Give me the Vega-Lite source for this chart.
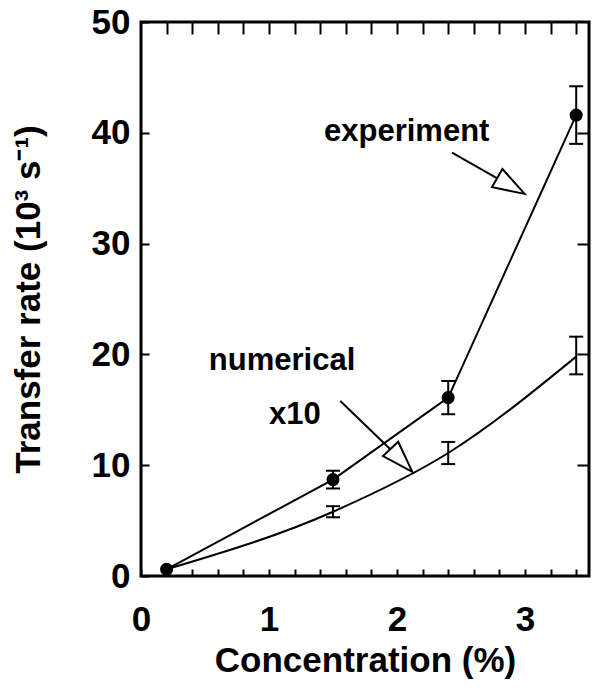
{
  "$schema": "https://vega.github.io/schema/vega-lite/v6.json",
  "width": 448,
  "height": 554,
  "autosize": "none",
  "padding": {"left": 141, "top": 22, "right": 17, "bottom": 122},
  "background": "white",
  "config": {
    "view": {"stroke": "black", "strokeWidth": 3},
    "axis": {
      "grid": false,
      "domain": false,
      "tickColor": "black",
      "tickWidth": 2,
      "labelColor": "black",
      "titleColor": "black",
      "labelFont": "Liberation Sans",
      "labelFontWeight": "bold",
      "labelFontSize": 35,
      "titleFont": "Liberation Sans",
      "titleFontWeight": "bold",
      "titleFontSize": 35,
      "labelOverlap": false,
      "labelFlush": false,
      "labelBound": false
    }
  },
  "datasets": {
    "exp": [
      {"c": 0.2, "v": 0.6},
      {"c": 1.5, "v": 8.7},
      {"c": 2.4, "v": 16.1},
      {"c": 3.4, "v": 41.6}
    ],
    "num": [
      {"c": 0.2, "v": 0.6},
      {"c": 1.5, "v": 5.8},
      {"c": 2.4, "v": 11.1},
      {"c": 3.4, "v": 19.8}
    ],
    "bars": [
      {"series": "experiment", "c": 1.5, "lo": 7.9, "hi": 9.5},
      {"series": "experiment", "c": 2.4, "lo": 14.6, "hi": 17.6},
      {"series": "experiment", "c": 3.4, "lo": 39.0, "hi": 44.2},
      {"series": "numerical", "c": 1.5, "lo": 5.3, "hi": 6.3},
      {"series": "numerical", "c": 2.4, "lo": 10.1, "hi": 12.1},
      {"series": "numerical", "c": 3.4, "lo": 18.2, "hi": 21.6}
    ],
    "labels": [
      {"c": 1.43, "v": 39.3, "t": "experiment"},
      {"c": 0.53, "v": 18.6, "t": "numerical"},
      {"c": 1.0, "v": 13.7, "t": "x10"}
    ],
    "arrows": [
      {"name": "experiment", "c": 2.43, "v": 38.2, "c2": 2.78, "v2": 35.9},
      {"name": "numerical", "c": 1.557, "v": 15.8, "c2": 1.95, "v2": 11.42}
    ],
    "heads": [
      {"name": "experiment", "c": 2.89, "v": 35.2},
      {"name": "numerical", "c": 2.035, "v": 10.43}
    ]
  },
  "resolve": {"axis": {"x": "independent", "y": "independent"}},
  "layer": [
    {
      "data": {"name": "num"},
      "mark": {"type": "line", "color": "black", "strokeWidth": 2, "interpolate": "monotone"},
      "encoding": {
        "x": {
          "field": "c", "type": "quantitative",
          "scale": {"domain": [0, 3.5], "nice": false, "zero": false},
          "axis": {
            "orient": "bottom",
            "values": [0, 0.2, 0.4, 0.6, 0.8, 1, 1.2, 1.4, 1.6, 1.8, 2, 2.2, 2.4, 2.6, 2.8, 3, 3.2, 3.4],
            "tickSize": -7,
            "labelPadding": 33,
            "labelExpr": "datum.value == 0 || datum.value == 1 || datum.value == 2 || datum.value == 3 ? format(datum.value, 'd') : ''",
            "title": "Concentration (%)",
            "titlePadding": 6
          }
        },
        "y": {
          "field": "v", "type": "quantitative",
          "scale": {"domain": [0, 50], "nice": false, "zero": false},
          "axis": {
            "orient": "left",
            "values": [0, 10, 20, 30, 40, 50],
            "tickSize": -8,
            "labelPadding": 19,
            "title": "Transfer rate (10³ s⁻¹)",
            "titlePadding": 45
          }
        }
      }
    },
    {
      "data": {"name": "exp"},
      "mark": {"type": "line", "color": "black", "strokeWidth": 2},
      "encoding": {
        "x": {
          "field": "c", "type": "quantitative",
          "axis": {
            "orient": "top",
            "values": [0.2, 0.4, 0.6, 0.8, 1, 1.2, 1.4, 1.6, 1.8, 2, 2.2, 2.4, 2.6, 2.8, 3, 3.2, 3.4],
            "tickSize": -12,
            "labels": false,
            "title": null
          }
        },
        "y": {
          "field": "v", "type": "quantitative",
          "axis": {
            "orient": "right",
            "values": [10, 20, 30, 40],
            "tickSize": -12,
            "labels": false,
            "title": null
          }
        }
      }
    },
    {
      "data": {"name": "arrows"},
      "mark": {"type": "rule", "color": "black", "strokeWidth": 2},
      "encoding": {
        "x": {"field": "c", "type": "quantitative", "axis": null},
        "y": {"field": "v", "type": "quantitative", "axis": null},
        "x2": {"field": "c2"},
        "y2": {"field": "v2"}
      }
    },
    {
      "data": {"name": "heads"},
      "transform": [{"filter": "datum.name == 'experiment'"}],
      "mark": {"type": "point", "shape": "M0,-1L0.66,1L-0.66,1Z", "size": 1000, "angle": 120, "filled": true, "fill": "white", "stroke": "black", "strokeWidth": 2, "opacity": 1},
      "encoding": {
        "x": {"field": "c", "type": "quantitative", "axis": null},
        "y": {"field": "v", "type": "quantitative", "axis": null}
      }
    },
    {
      "data": {"name": "heads"},
      "transform": [{"filter": "datum.name == 'numerical'"}],
      "mark": {"type": "point", "shape": "M0,-1L0.66,1L-0.66,1Z", "size": 1000, "angle": 136.6, "filled": true, "fill": "white", "stroke": "black", "strokeWidth": 2, "opacity": 1},
      "encoding": {
        "x": {"field": "c", "type": "quantitative", "axis": null},
        "y": {"field": "v", "type": "quantitative", "axis": null}
      }
    },
    {
      "data": {"name": "bars"},
      "mark": {"type": "rule", "color": "black", "strokeWidth": 2},
      "encoding": {
        "x": {"field": "c", "type": "quantitative", "axis": null},
        "y": {"field": "lo", "type": "quantitative", "axis": null},
        "y2": {"field": "hi"}
      }
    },
    {
      "data": {"name": "bars"},
      "mark": {"type": "tick", "orient": "horizontal", "color": "black", "size": 14, "thickness": 2, "opacity": 1},
      "encoding": {
        "x": {"field": "c", "type": "quantitative", "axis": null},
        "y": {"field": "lo", "type": "quantitative", "axis": null}
      }
    },
    {
      "data": {"name": "bars"},
      "mark": {"type": "tick", "orient": "horizontal", "color": "black", "size": 14, "thickness": 2, "opacity": 1},
      "encoding": {
        "x": {"field": "c", "type": "quantitative", "axis": null},
        "y": {"field": "hi", "type": "quantitative", "axis": null}
      }
    },
    {
      "data": {"name": "exp"},
      "mark": {"type": "point", "shape": "circle", "filled": true, "color": "black", "size": 170, "opacity": 1},
      "encoding": {
        "x": {"field": "c", "type": "quantitative", "axis": null},
        "y": {"field": "v", "type": "quantitative", "axis": null}
      }
    },
    {
      "data": {"name": "labels"},
      "mark": {"type": "text", "align": "left", "baseline": "alphabetic", "font": "Liberation Sans", "fontWeight": "bold", "fontSize": 31, "color": "black"},
      "encoding": {
        "x": {"field": "c", "type": "quantitative", "axis": null},
        "y": {"field": "v", "type": "quantitative", "axis": null},
        "text": {"field": "t"}
      }
    }
  ]
}
